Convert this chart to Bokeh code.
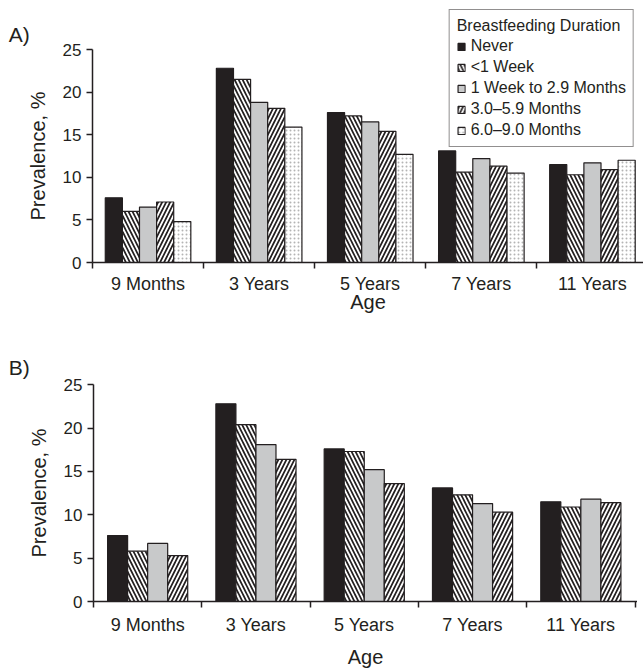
from bokeh.plotting import figure
from bokeh.models import FixedTicker, Label, Legend, LegendItem, ColumnDataSource, LinearAxis
from bokeh.layouts import column
from bokeh.embed import file_html
from bokeh.resources import INLINE

# ---------------- data ----------------
ages = ["9 Months", "3 Years", "5 Years", "7 Years", "11 Years"]
durations = ["Never", "<1 Week", "1 Week to 2.9 Months", "3.0\u20135.9 Months", "6.0\u20139.0 Months"]

# Panel A
never_a = [7.6, 22.8, 17.6, 13.1, 11.5]
lt1wk_a = [6.0, 21.5, 17.2, 10.6, 10.3]
wk1_29_a = [6.5, 18.8, 16.5, 12.2, 11.7]
m30_59_a = [7.1, 18.1, 15.4, 11.3, 10.9]
m60_90_a = [4.8, 15.9, 12.7, 10.5, 12.0]

# Panel B
never_b = [7.6, 22.8, 17.6, 13.1, 11.5]
lt1wk_b = [5.8, 20.4, 17.3, 12.3, 10.9]
wk1_29_b = [6.7, 18.1, 15.2, 11.3, 11.8]
m30_59_b = [5.3, 16.4, 13.6, 10.3, 11.4]

y_ticks = [0, 5, 10, 15, 20, 25]

# ---------------- styles ----------------
INK = "#231f20"
FONT = "Liberation Sans"
STYLES = [
    dict(fill_color=INK),
    dict(fill_color="white", hatch_pattern="left_diagonal_line", hatch_color=INK, hatch_weight=1.7, hatch_scale=8),
    dict(fill_color="#c8c9ca"),
    dict(fill_color="white", hatch_pattern="right_diagonal_line", hatch_color=INK, hatch_weight=1.7, hatch_scale=8),
    dict(fill_color="white", hatch_pattern="dot", hatch_color="#b4b4b4", hatch_weight=0.6, hatch_scale=4),
]


def make_panel(series, width, height, left_px, zero_px, px_x, px_y, group_w,
               tag, tag_px, tick_standoff, label_standoff, legend=False):
    # the frame covers the whole canvas; axes are pinned at x = 0 and y = 0
    x_start = -left_px / px_x
    x_end = (width - left_px) / px_x
    y_start = -(height - zero_px) / px_y
    y_end = zero_px / px_y
    p = figure(width=width, height=height, output_backend="svg", toolbar_location=None,
               x_range=(x_start, x_end), y_range=(y_start, y_end),
               x_axis_location=None, y_axis_location=None,
               min_border_left=0, min_border_right=0, min_border_top=0, min_border_bottom=0)
    p.outline_line_color = None
    p.grid.grid_line_color = None
    p.background_fill_color = "white"
    p.border_fill_color = "white"

    n = len(series)
    bw = group_w / n
    items = []
    for j, vals in enumerate(series):
        xs = [i + 0.5 + (j - (n - 1) / 2) * bw for i in range(len(ages))]
        src = ColumnDataSource(dict(x=xs, top=vals))
        r = p.vbar(x="x", top="top", width=bw, bottom=0, source=src,
                   line_color=INK, line_width=1.2, **STYLES[j])
        items.append(LegendItem(label=durations[j], renderers=[r]))

    # x axis at y = 0
    xa = LinearAxis(fixed_location=0, bounds=(0, x_end),
                    ticker=FixedTicker(ticks=[i + 0.5 for i in range(len(ages))],
                                       minor_ticks=list(range(len(ages) + 1))))
    xa.major_label_overrides = {i + 0.5: a for i, a in enumerate(ages)}
    xa.major_tick_line_color = None
    xa.major_tick_out = 6
    xa.major_tick_in = 0
    xa.minor_tick_line_color = INK
    xa.minor_tick_line_width = 1.5
    xa.minor_tick_out = 6
    xa.minor_tick_in = 0
    xa.axis_line_color = INK
    xa.axis_line_width = 1.5
    xa.major_label_text_font = FONT
    xa.major_label_text_font_size = "18px"
    xa.major_label_text_color = INK
    xa.major_label_standoff = tick_standoff
    xa.axis_label = "Age"
    xa.axis_label_text_font = FONT
    xa.axis_label_text_font_size = "20px"
    xa.axis_label_text_font_style = "normal"
    xa.axis_label_text_color = INK
    xa.axis_label_standoff = label_standoff
    p.add_layout(xa, "below")

    # y axis at x = 0 (left edge of the first age group)
    ya = LinearAxis(fixed_location=0, ticker=FixedTicker(ticks=y_ticks), bounds=(0, 25))
    ya.minor_tick_line_color = None
    ya.major_tick_out = 6
    ya.major_tick_in = 0
    ya.major_tick_line_color = INK
    ya.major_tick_line_width = 1.5
    ya.axis_line_color = INK
    ya.axis_line_width = 1.5
    ya.major_label_text_font = FONT
    ya.major_label_text_font_size = "17px"
    ya.major_label_text_color = INK
    ya.major_label_standoff = 5
    ya.axis_label = "Prevalence, %"
    ya.axis_label_text_font = FONT
    ya.axis_label_text_font_size = "20px"
    ya.axis_label_text_font_style = "normal"
    ya.axis_label_text_color = INK
    ya.axis_label_standoff = 11
    p.add_layout(ya, "left")

    # panel tag (pixel offsets from the axes origin)
    p.add_layout(Label(x=tag_px[0] / px_x, y=tag_px[1] / px_y, text=tag,
                       text_font=FONT, text_font_size="21px", text_color=INK,
                       text_baseline="middle", text_align="left"))

    if legend:
        lg = Legend(items=items, location="top_right", margin=9, title="Breastfeeding Duration",
                    title_text_font=FONT, title_text_font_size="16px", title_text_font_style="normal",
                    title_text_color=INK, title_standoff=2,
                    label_text_font=FONT, label_text_font_size="16px", label_text_color=INK,
                    glyph_width=9, glyph_height=9, label_height=18, spacing=3,
                    label_standoff=5, padding=7,
                    border_line_color=INK, border_line_width=1.2,
                    background_fill_color="white", background_fill_alpha=1)
        p.add_layout(lg, "center")
    return p


pA = make_panel([never_a, lt1wk_a, wk1_29_a, m30_59_a, m60_90_a],
                width=643, height=338, left_px=92, zero_px=262, px_x=111.1, px_y=8.52,
                group_w=0.77, tag="A)", tag_px=(-83.7, 262 - 34),
                tick_standoff=5, label_standoff=-6, legend=True)
pB = make_panel([never_b, lt1wk_b, wk1_29_b, m30_59_b],
                width=637, height=332, left_px=93, zero_px=263, px_x=108.3, px_y=8.67,
                group_w=0.74, tag="B)", tag_px=(-84.7, 263 - 29),
                tick_standoff=7, label_standoff=8)

layout = column(pA, pB)
open("out.html", "w").write(file_html(layout, INLINE))
